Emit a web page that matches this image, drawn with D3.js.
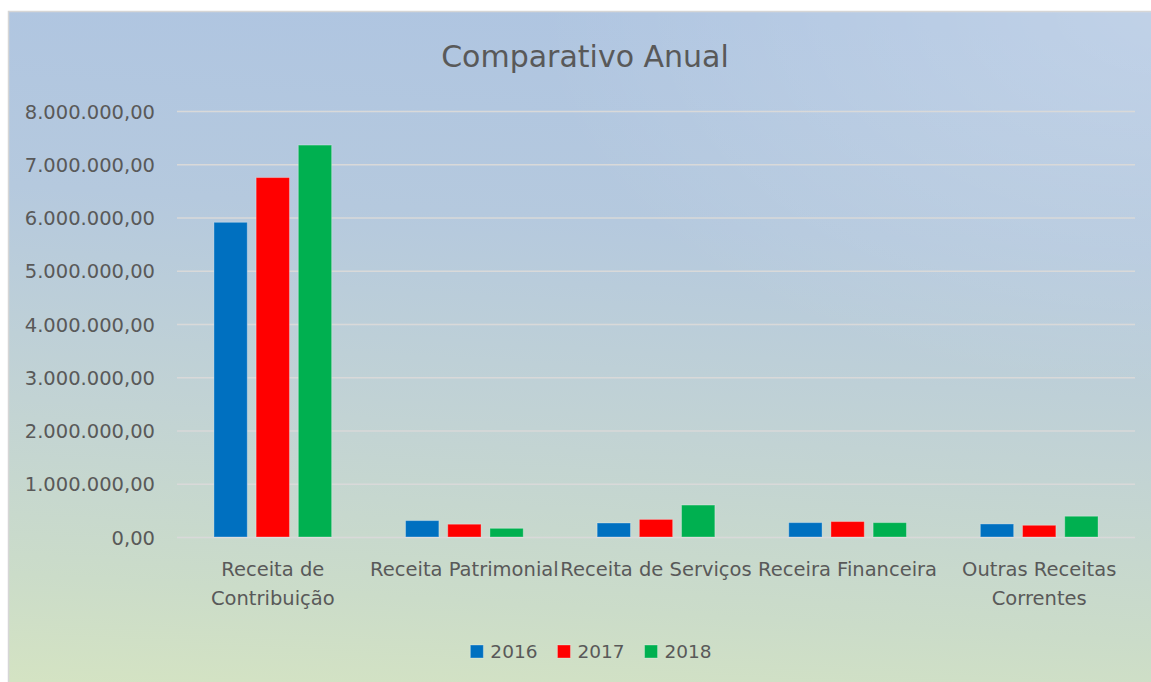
<!DOCTYPE html>
<html lang="pt">
<head>
<meta charset="UTF-8">
<title>Comparativo Anual</title>
<script src="https://d3js.org/d3.v7.min.js"></script>
<style>
  body { margin: 0; background: #fff; }
  svg { display: block; font-family: "DejaVu Sans", sans-serif; }
</style>
</head>
<body>
<div id="chart"></div>
<script>
// data
var categories = ["Receita de Contribuição", "Receita Patrimonial", "Receita de Serviços", "Receira Financeira", "Outras Receitas Correntes"];
var tickLines = [["Receita de", "Contribuição"], ["Receita Patrimonial"], ["Receita de Serviços"], ["Receira Financeira"], ["Outras Receitas", "Correntes"]];
var years = ["2016", "2017", "2018"];
var values2016 = [5910000, 308000, 263000, 270000, 245000];
var values2017 = [6750000, 240000, 330000, 290000, 220000];
var values2018 = [7360000, 163000, 600000, 270000, 390000];
var yTicks = [0, 1000000, 2000000, 3000000, 4000000, 5000000, 6000000, 7000000, 8000000];
var colors = ["#0070C0", "#FF0000", "#00B050"];

var series = [values2016, values2017, values2018];
var rows = categories.map(function(c, i) {
  return {cat: c, vals: years.map(function(y, j) { return {year: y, value: series[j][i]}; })};
});

var W = 1151, H = 682;
var margin = {top: 111, right: 16, bottom: 145, left: 177};
var width = 1135 - margin.left,
    height = 537 - margin.top;

var br = d3.formatLocale({decimal: ",", thousands: ".", grouping: [3], currency: ["R$", ""]});
var fmt = br.format(",.2f");

var svg = d3.select("#chart").append("svg")
  .attr("width", W)
  .attr("height", H);

// background
var defs = svg.append("defs");
var grad = defs.append("linearGradient")
  .attr("id", "bg")
  .attr("x1", "0.55").attr("y1", "0")
  .attr("x2", "0.45").attr("y2", "1");
grad.append("stop").attr("offset", "0").attr("stop-color", "#afc5e1");
grad.append("stop").attr("offset", "0.3").attr("stop-color", "#b5c9de");
grad.append("stop").attr("offset", "0.6").attr("stop-color", "#c2d3d4");
grad.append("stop").attr("offset", "0.85").attr("stop-color", "#cbdcc9");
grad.append("stop").attr("offset", "1").attr("stop-color", "#d4e3c3");
var glow = defs.append("radialGradient")
  .attr("id", "glow")
  .attr("cx", "1").attr("cy", "0").attr("r", "0.55");
glow.append("stop").attr("offset", "0").attr("stop-color", "#ffffff").attr("stop-opacity", 0.22);
glow.append("stop").attr("offset", "1").attr("stop-color", "#ffffff").attr("stop-opacity", 0);

svg.append("rect")
  .attr("x", 8.5).attr("y", 11.5)
  .attr("width", 1160).attr("height", 700)
  .attr("fill", "url(#bg)")
  .attr("stroke", "#d6d6d6")
  .attr("stroke-width", 1.5);
svg.append("rect")
  .attr("x", 9).attr("y", 12)
  .attr("width", 1160).attr("height", 700)
  .attr("fill", "url(#glow)");

// title
svg.append("text")
  .attr("x", 585).attr("y", 67)
  .attr("text-anchor", "middle")
  .attr("fill", "#595959")
  .style("font-size", "30px")
  .text("Comparativo Anual");

var g = svg.append("g")
  .attr("transform", "translate(" + margin.left + "," + margin.top + ")");

var x0 = d3.scaleBand()
  .domain(categories)
  .range([0, width])
  .padding(0);

var side = (x0.bandwidth() - 117.7) / 2;
var x1 = d3.scaleBand()
  .domain(years)
  .range([side, x0.bandwidth() - side])
  .paddingInner(0.21);

var y = d3.scaleLinear()
  .domain([0, 8000000])
  .range([height, 0]);

// gridlines + y labels
var yAxis = g.append("g")
  .call(d3.axisLeft(y).tickValues(yTicks).tickSize(-width).tickPadding(22).tickFormat(fmt));
yAxis.select(".domain").remove();
yAxis.selectAll(".tick line")
  .attr("stroke", "#d9d9d9")
  .attr("stroke-width", 1.6);
yAxis.selectAll(".tick text")
  .attr("fill", "#595959")
  .attr("dy", "0.36em")
  .style("font-size", "19.5px")
  .style("font-family", "DejaVu Sans, sans-serif");

// bars
var groups = g.selectAll(".cat")
  .data(rows)
  .enter().append("g")
  .attr("class", "cat")
  .attr("transform", function(d) { return "translate(" + x0(d.cat) + ",0)"; });

groups.selectAll("rect")
  .data(function(d) { return d.vals; })
  .enter().append("rect")
  .attr("x", function(d) { return x1(d.year); })
  .attr("y", function(d) { return y(d.value); })
  .attr("width", x1.bandwidth())
  .attr("height", function(d) { return height - y(d.value); })
  .attr("fill", function(d, i) { return colors[i]; })
  .attr("stroke", "rgba(255,255,255,0.3)")
  .attr("stroke-width", 1);

// category labels
var xAxis = g.append("g")
  .attr("transform", "translate(0," + height + ")")
  .call(d3.axisBottom(x0).tickSize(0).tickFormat(""));
xAxis.select(".domain").remove();
xAxis.selectAll(".tick").each(function(d, i) {
  var t = d3.select(this).append("text")
    .attr("text-anchor", "middle")
    .attr("fill", "#595959")
    .style("font-size", "19.5px")
    .style("font-family", "DejaVu Sans, sans-serif");
  tickLines[i].forEach(function(line, k) {
    t.append("tspan").attr("x", 0).attr("y", 39 + k * 29).text(line);
  });
});

// legend
var legend = svg.append("g").attr("transform", "translate(0,645)");
var cursor = 0;
var items = legend.selectAll(".item")
  .data(years)
  .enter().append("g")
  .attr("class", "item");
items.append("rect")
  .attr("width", 13).attr("height", 13)
  .attr("fill", function(d, i) { return colors[i]; })
  .attr("stroke", "rgba(255,255,255,0.3)");
items.append("text")
  .attr("x", 20).attr("y", 13)
  .attr("fill", "#595959")
  .style("font-size", "18.5px")
  .text(function(d) { return d; });
items.each(function() {
  var w = this.getBBox().width;
  d3.select(this).attr("transform", "translate(" + cursor + ",0)");
  cursor += w + 20;
});
var total = cursor - 20;
legend.attr("transform", "translate(" + (591 - total / 2) + ",645)");
</script>
</body>
</html>
